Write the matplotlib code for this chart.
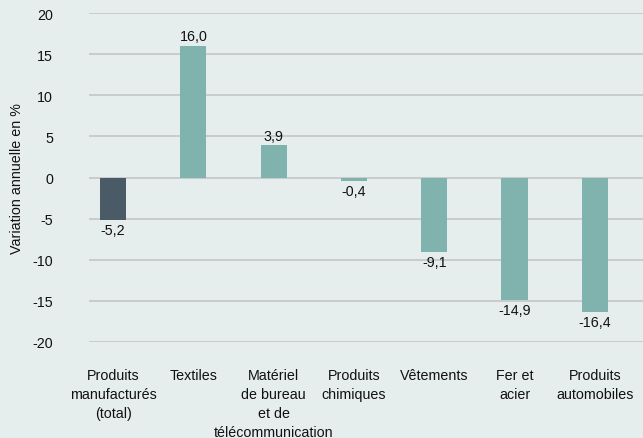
import matplotlib.pyplot as plt

categories = ["Produits\nmanufacturés\n(total)", "Textiles", "Matériel\nde bureau\net de\ntélécommunication",
              "Produits\nchimiques", "Vêtements", "Fer et\nacier", "Produits\nautomobiles"]
values = [-5.2, 16.0, 3.9, -0.4, -9.1, -14.9, -16.4]
colors = ["#4a5a66", "#80b3ae", "#80b3ae", "#80b3ae", "#80b3ae", "#80b3ae", "#80b3ae"]
yticks = [-20, -15, -10, -5, 0, 5, 10, 15, 20]

plt.rcParams['font.family'] = ['Liberation Sans', 'DejaVu Sans']
bg = "#e6eeed"
fs = 10.3

fig = plt.figure(figsize=(6.43, 4.39), dpi=100, facecolor=bg)
ax = fig.add_axes([89 / 643, 1 - 343 / 439, 1 - 89 / 643, 329 / 439])
ax.set_facecolor(bg)

x = range(len(values))
bars = ax.bar(x, values, width=0.325, color=colors, zorder=3)

for xi, v in zip(x, values):
    label = f"{v:.1f}".replace(".", ",")
    if v >= 0:
        ax.annotate(label, (xi, v), xytext=(0, 2), textcoords="offset points",
                    ha="center", va="bottom", fontsize=fs, color="#111111")
    else:
        ax.annotate(label, (xi, v), xytext=(0, -2), textcoords="offset points",
                    ha="center", va="top", fontsize=fs, color="#111111")

ax.set_ylim(-20, 20)
ax.set_xlim(-0.3, 6.6)
ax.set_yticks(yticks)
ax.set_yticklabels([str(t) for t in yticks], fontsize=fs, color="#111111")
ax.set_xticks(list(x))
ax.set_xticklabels(categories, fontsize=fs, color="#111111", linespacing=1.45, va="top")
ax.tick_params(axis="both", length=0)
ax.tick_params(axis="y", pad=26)
ax.tick_params(axis="x", pad=19)
for s in ax.spines.values():
    s.set_visible(False)
ax.grid(axis="y", color="#c4c6c6", linewidth=1.2, zorder=0)
ax.set_axisbelow(True)
ax.set_ylabel("Variation annuelle en %", fontsize=fs, color="#111111", labelpad=6)

fig.savefig("out.png", dpi=100, facecolor=bg)
